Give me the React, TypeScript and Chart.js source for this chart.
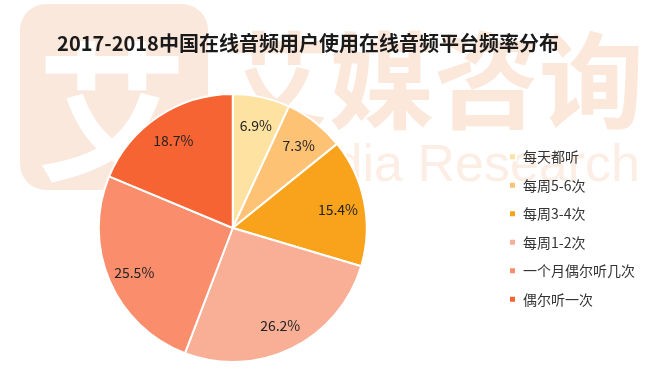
import React, { useEffect, useRef } from "react";
import { Chart, registerables } from "chart.js";

Chart.register(...registerables);

const TITLE = "2017-2018中国在线音频用户使用在线音频平台频率分布";
const categories = ["每天都听", "每周5-6次", "每周3-4次", "每周1-2次", "一个月偶尔听几次", "偶尔听一次"];
const shares = [6.9, 7.3, 15.4, 26.2, 25.5, 18.7];
const colors = ["#FDE2A2", "#FDC274", "#F9A31C", "#F9AE96", "#F98D6C", "#F76433"];

const FONT = '"Noto Sans CJK SC", "Noto Sans", sans-serif';
const SHIFT = 29;

const watermarkPlugin = {
  id: "watermark",
  beforeDraw(chart: any) {
    const ctx = chart.ctx;
    ctx.save();
    ctx.translate(SHIFT, 0);
    // logo block
    ctx.fillStyle = "#FBE8DD";
    ctx.beginPath();
    (ctx as any).roundRect(20, 4, 188, 186, 26);
    ctx.fill();
    ctx.fillStyle = "#FFFFFF";
    ctx.font = `bold 150px ${FONT}`;
    ctx.textAlign = "center";
    ctx.textBaseline = "middle";
    ctx.fillText("艾", 112, 112);
    // big characters
    ctx.fillStyle = "#FCE7DB";
    ctx.font = `bold 105px ${FONT}`;
    ctx.textAlign = "left";
    ctx.textBaseline = "middle";
    ctx.fillText("艾媒咨询", 224, 80);
    // english
    ctx.fillStyle = "#FDEEE5";
    ctx.font = `52px "Liberation Sans", Arial, sans-serif`;
    ctx.textAlign = "right";
    ctx.textBaseline = "alphabetic";
    ctx.fillText("iiMedia Research", 640, 181);
    ctx.restore();
  },
};

const labelPlugin = {
  id: "sliceLabels",
  afterDatasetsDraw(chart: any) {
    const ctx = chart.ctx;
    const meta = chart.getDatasetMeta(0);
    ctx.save();
    ctx.font = `14px ${FONT}`;
    ctx.fillStyle = "#222222";
    ctx.textAlign = "center";
    ctx.textBaseline = "middle";
    meta.data.forEach((arc: any, i: number) => {
      const { x, y, startAngle, endAngle, outerRadius } = arc.getProps(
        ["x", "y", "startAngle", "endAngle", "outerRadius"],
        true
      );
      const mid = (startAngle + endAngle) / 2;
      const r = outerRadius * 0.8;
      ctx.fillText(shares[i].toFixed(1) + "%", x + Math.cos(mid) * r, y + Math.sin(mid) * r + 2);
    });
    ctx.restore();
  },
};

export default function App() {
  const ref = useRef<HTMLCanvasElement>(null);

  useEffect(() => {
    if (!ref.current) return;
    Chart.defaults.font.family = FONT;
    const chart = new Chart(ref.current, {
      type: "pie",
      data: {
        labels: categories,
        datasets: [
          {
            data: shares,
            backgroundColor: colors,
            borderColor: "#FFFFFF",
            borderWidth: 2,
            radius: 134,
            clip: false,
          } as any,
        ],
      },
      options: {
        animation: false,
        responsive: true,
        maintainAspectRatio: false,
        layout: { padding: { left: 0, right: 15, top: 0, bottom: 6 } },
        plugins: {
          title: {
            display: true,
            text: TITLE,
            color: "#1A1A1A",
            font: { size: 20, weight: "bold" as any, lineHeight: 1.2 },
            padding: { top: 31, bottom: 25 },
          },
          legend: {
            position: "right",
            align: "center",
            fullSize: false,
            labels: {
              boxWidth: 7,
              boxHeight: 7,
              padding: 14.5,
              color: "#333333",
              font: { size: 14 },
            },
          },
          tooltip: { enabled: false },
        },
      },
      plugins: [watermarkPlugin, labelPlugin],
    });
    return () => chart.destroy();
  }, []);

  return (
    <div
      style={{
        position: "absolute",
        left: -SHIFT,
        top: 0,
        width: 660 + SHIFT,
        height: 382,
        background: "#fff",
        overflow: "hidden",
      }}
    >
      <canvas ref={ref} />
    </div>
  );
}
